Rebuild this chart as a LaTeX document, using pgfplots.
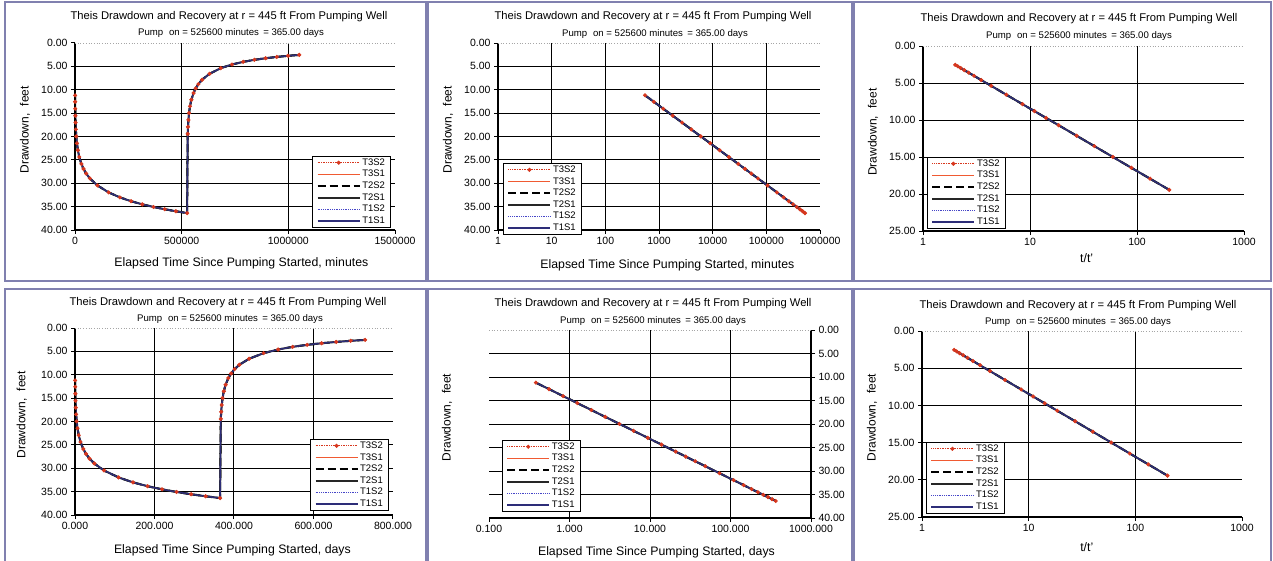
\documentclass[border=0pt]{standalone}
\usepackage{pgfplots}
\pgfplotsset{compat=1.18}
\usepackage{pgfplotstable}
\usepackage{fontspec}
\setmainfont{Liberation Sans}
\definecolor{framec}{RGB}{128,128,175}
\definecolor{ptred}{RGB}{215,55,30}
\definecolor{ptorange}{RGB}{240,90,50}
\definecolor{navy}{RGB}{45,45,120}
\definecolor{blu}{RGB}{70,70,200}

\pgfplotstableread{
tmin tday s
550 0.382 11.20
800 0.556 12.57
1200 0.833 14.06
1800 1.250 15.55
2700 1.875 17.03
4000 2.778 18.48
6000 4.167 19.97
9000 6.250 21.45
13500 9.375 22.94
20000 13.889 24.38
30000 20.833 25.87
40000 27.778 26.93
52560 36.500 27.93
70000 48.611 28.98
105120 73.000 30.47
157680 109.500 31.96
210240 146.000 33.02
262800 182.500 33.84
315360 219.000 34.51
367920 255.500 35.07
420480 292.000 35.56
473040 328.500 35.99
525600 365.000 36.38
}\pump

\pgfplotstableread{
tmin tday ratio s
528241 366.834 200.0 19.44
529600 367.778 132.4 17.93
531600 369.167 88.60 16.46
534600 371.250 59.40 14.99
539100 374.375 39.93 13.53
545600 378.889 27.28 12.13
555600 385.833 18.52 10.71
565600 392.778 14.14 9.72
578160 401.500 11.00 8.80
595600 413.611 8.509 7.86
630720 438.000 6.000 6.58
683280 474.500 4.333 5.38
735840 511.000 3.500 4.60
788400 547.500 3.000 4.03
840960 584.000 2.667 3.60
893520 620.500 2.429 3.26
946080 657.000 2.250 2.98
998640 693.500 2.111 2.74
1051200 730.000 2.000 2.54
}\rec

\pgfplotstableread{
tmin tday s
550 0.382 11.20
800 0.556 12.57
1200 0.833 14.06
1800 1.250 15.55
2700 1.875 17.03
4000 2.778 18.48
6000 4.167 19.97
9000 6.250 21.45
13500 9.375 22.94
20000 13.889 24.38
30000 20.833 25.87
40000 27.778 26.93
52560 36.500 27.93
70000 48.611 28.98
105120 73.000 30.47
157680 109.500 31.96
210240 146.000 33.02
262800 182.500 33.84
315360 219.000 34.51
367920 255.500 35.07
420480 292.000 35.56
473040 328.500 35.99
525600 365.000 36.38
528241 366.834 19.44
529600 367.778 17.93
531600 369.167 16.46
534600 371.250 14.99
539100 374.375 13.53
545600 378.889 12.13
555600 385.833 10.71
565600 392.778 9.72
578160 401.500 8.80
595600 413.611 7.86
630720 438.000 6.58
683280 474.500 5.38
735840 511.000 4.60
788400 547.500 4.03
840960 584.000 3.60
893520 620.500 3.26
946080 657.000 2.98
998640 693.500 2.74
1051200 730.000 2.54
}\all

\pgfplotsset{
  s32/.style={color=ptred, densely dotted, line width=0.7pt, mark=*, mark size=1.7pt, mark options={solid, fill=ptred, draw=ptred}},
  s31/.style={color=ptorange, solid, line width=0.8pt, mark=none},
  s22/.style={color=black, dash pattern=on 8pt off 4pt, line width=2pt, mark=none},
  s21/.style={color=black!85, solid, line width=2pt, mark=none},
  s12/.style={color=blu, densely dotted, line width=0.8pt, mark=none},
  s11/.style={color=navy, solid, line width=1.3pt, mark=none},
  base/.style={
    scale only axis,
    y dir=reverse,
    clip=false,
    scaled x ticks=false, scaled y ticks=false,
    axis line style={draw=none},
    grid=major,
    major grid style={black, line width=1pt},
    tick style={black, line width=1pt},
    tick align=outside,
    major tick length=4pt,
    xminorticks=false, yminorticks=false,
    xtick pos=left, ytick pos=left,
    ticklabel style={font=\fontsize{10.5}{11}\selectfont},
    xlabel style={font=\fontsize{12.3}{13}\selectfont, anchor=center},
    ylabel style={font=\fontsize{12}{13}\selectfont, anchor=center},
    extra tick style={grid=none},
    legend entries={T3S2,T3S1,T2S2,T2S1,T1S2,T1S1},
    legend cell align=left,
    legend style={font=\fontsize{9.5}{10}\selectfont, draw=black, line width=0.8pt, fill=white,
      inner xsep=4pt, inner ysep=1pt, row sep=0.3pt, nodes={inner sep=1.6pt}},
    legend image code/.code={\draw[mark repeat=2,mark phase=2,##1] plot coordinates {(0pt,0pt) (21pt,0pt) (42pt,0pt)};},
  },
  y40/.style={ymin=0, ymax=40, ytick={5,10,...,40},
    yticklabels={5.00,10.00,15.00,20.00,25.00,30.00,35.00,40.00},
    extra y ticks={0}, extra y tick labels={0.00}},
  y25/.style={ymin=0, ymax=25, ytick={5,10,...,25},
    yticklabels={5.00,10.00,15.00,20.00,25.00},
    extra y ticks={0}, extra y tick labels={0.00}},
}

\newcommand\six[3]{%
  \addplot[s32] table[x=#2,y=#3]{#1};
  \addplot[s31] table[x=#2,y=#3]{#1};
  \addplot[s22] table[x=#2,y=#3]{#1};
  \addplot[s21] table[x=#2,y=#3]{#1};
  \addplot[s12] table[x=#2,y=#3]{#1};
  \addplot[s11] table[x=#2,y=#3]{#1};
}
\newcommand\leftframe{%
  \draw[black, line width=1.2pt] (axis description cs:0,1) -- (axis description cs:0,0) -- (axis description cs:1,0);
  \draw[gray!70, dotted, line width=0.7pt] (axis description cs:0,1) -- (axis description cs:1,1);
}
\newcommand\rightframe{%
  \draw[black, line width=1.2pt] (axis description cs:1,1) -- (axis description cs:1,0) -- (axis description cs:0,0);
  \draw[gray!70, dotted, line width=0.7pt] (axis description cs:0,1) -- (axis description cs:1,1);
}
\newcommand\ttl{\fontsize{11.2}{12}\selectfont Theis Drawdown and Recovery at r = 445 ft From Pumping Well}
\newcommand\sub{\fontsize{9.6}{10}\selectfont Pump\,\, on = 525600 minutes\, = 365.00 days}

\begin{document}
\begin{tikzpicture}
\useasboundingbox (0pt,0pt) rectangle (1273pt,-561pt);
% panel frames
\begin{scope}[draw=framec, line width=1.5pt]
\draw (5pt,-2pt) rectangle (426pt,-281pt);
\draw (428pt,-2pt) rectangle (852pt,-281pt);
\draw (854pt,-2pt) rectangle (1271pt,-281pt);
\draw (5pt,-289pt) rectangle (426pt,-570pt);
\draw (428pt,-289pt) rectangle (852pt,-570pt);
\draw (854pt,-289pt) rectangle (1271pt,-570pt);
\end{scope}
% titles
\node at (229pt,-17pt) {\ttl};  \node at (231pt,-33pt) {\sub};
\node at (653pt,-17pt) {\ttl};  \node at (655pt,-34pt) {\sub};
\node at (1079pt,-19pt) {\ttl}; \node at (1079pt,-36pt) {\sub};
\node at (228pt,-303pt) {\ttl}; \node at (230pt,-319pt) {\sub};
\node at (653pt,-304pt) {\ttl}; \node at (653pt,-321pt) {\sub};
\node at (1078pt,-306pt) {\ttl}; \node at (1078pt,-322pt) {\sub};

% Panel 1
\begin{axis}[base, y40, at={(75pt,-230pt)}, anchor=south west, width=320pt, height=187pt,
  xmin=0, xmax=1500000, xtick={0,500000,1000000}, xticklabels={0,500000,1000000},
  extra x ticks={1500000}, extra x tick labels={1500000},
  xlabel={Elapsed Time Since Pumping Started, minutes}, ylabel={Drawdown,\,\, feet},
  xlabel style={at={(axis description cs:0.52,-0.176)}},
  ylabel style={at={(axis description cs:-0.156,0.535)}},
  legend style={at={(axis description cs:0.9875,0.011)}, anchor=south east}]
\six{\all}{tmin}{s}
\leftframe
\end{axis}

% Panel 2
\begin{axis}[base, y40, at={(498pt,-230pt)}, anchor=south west, width=322pt, height=187pt,
  xmode=log, xmin=1, xmax=1000000, xtick={1,10,100,1000,10000,100000},
  xticklabels={1,10,100,1000,10000,100000},
  extra x ticks={1000000}, extra x tick labels={1000000},
  xlabel={Elapsed Time Since Pumping Started, minutes}, ylabel={Drawdown,\,\, feet},
  xlabel style={at={(axis description cs:0.526,-0.187)}},
  ylabel style={at={(axis description cs:-0.155,0.535)}},
  legend style={at={(axis description cs:0.0155,-0.027)}, anchor=south west}]
\six{\pump}{tmin}{s}
\leftframe
\end{axis}

% Panel 3
\begin{axis}[base, y25, at={(923pt,-231pt)}, anchor=south west, width=321pt, height=185pt,
  xmode=log, xmin=1, xmax=1000, xtick={1,10,100},
  xticklabels={1,10,100},
  extra x ticks={1000}, extra x tick labels={1000},
  xlabel={t/t'}, ylabel={Drawdown,\,\, feet},
  xlabel style={at={(axis description cs:0.51,-0.146)}},
  ylabel style={at={(axis description cs:-0.156,0.535)}},
  legend style={at={(axis description cs:0.0125,0.011)}, anchor=south west}]
\six{\rec}{ratio}{s}
\leftframe
\end{axis}

% Panel 4
\begin{axis}[base, y40, at={(75pt,-515pt)}, anchor=south west, width=318pt, height=187pt,
  xmin=0, xmax=800, xtick={0,200,400,600}, xticklabels={0.000,200.000,400.000,600.000},
  extra x ticks={800}, extra x tick labels={800.000},
  xlabel={Elapsed Time Since Pumping Started, days}, ylabel={Drawdown,\,\, feet},
  xlabel style={at={(axis description cs:0.495,-0.187)}},
  ylabel style={at={(axis description cs:-0.167,0.535)}},
  legend style={at={(axis description cs:0.987,0.021)}, anchor=south east}]
\six{\all}{tday}{s}
\leftframe
\end{axis}

% Panel 5
\begin{axis}[base, y40, at={(489pt,-518pt)}, anchor=south west, width=322pt, height=188pt,
  ytick pos=right, yticklabel pos=right,
  xmode=log, xmin=0.1, xmax=1000, xtick={1,10,100,1000},
  xticklabels={1.000,10.000,100.000,1000.000},
  extra x ticks={0.1}, extra x tick labels={0.100},
  xlabel={Elapsed Time Since Pumping Started, days}, ylabel={Drawdown,\,\, feet},
  xlabel style={at={(axis description cs:0.52,-0.18)}},
  ylabel style={at={(axis description cs:-0.130,0.535)}},
  legend style={at={(axis description cs:0.040,0.032)}, anchor=south west}]
\six{\pump}{tday}{s}
\rightframe
\end{axis}

% Panel 6
\begin{axis}[base, y25, at={(922pt,-517pt)}, anchor=south west, width=320pt, height=186pt,
  xmode=log, xmin=1, xmax=1000, xtick={1,10,100},
  xticklabels={1,10,100},
  extra x ticks={1000}, extra x tick labels={1000},
  xlabel={t/t'}, ylabel={Drawdown,\,\, feet},
  xlabel style={at={(axis description cs:0.515,-0.161)}},
  ylabel style={at={(axis description cs:-0.156,0.535)}},
  legend style={at={(axis description cs:0.0125,0.016)}, anchor=south west}]
\six{\rec}{ratio}{s}
\leftframe
\end{axis}
\end{tikzpicture}
\end{document}
